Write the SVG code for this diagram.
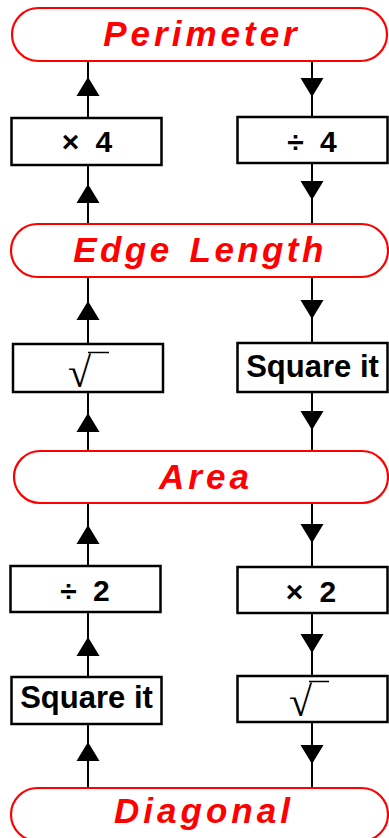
<svg xmlns="http://www.w3.org/2000/svg" xmlns:xlink="http://www.w3.org/1999/xlink" width="389" height="838" viewBox="0 0 389 838">
<style>
.pill{fill:#fff;stroke:#ff0000;stroke-width:2.2}
.pt{font-family:"Liberation Sans",Arial,sans-serif;font-weight:bold;font-style:italic;font-size:35px;fill:#ff0000;letter-spacing:4px;text-anchor:middle}
.box{fill:#fff;stroke:#000;stroke-width:2.5}
.bt{font-family:"Liberation Sans",Arial,sans-serif;font-weight:bold;font-size:30px;fill:#000;text-anchor:middle}
.sq{font-size:31px}
.rad{font-family:"Liberation Serif","DejaVu Serif",serif;font-size:42px;fill:#000}
.vin{stroke:#000;stroke-width:1.5}
.ln{stroke:#000;stroke-width:2;fill:none}
.ah{fill:#000}
</style>
<defs>
<path id="up" d="M0,0 L11.5,19 L-11.5,19 Z"/>
<path id="dn" d="M0,0 L-11.5,-19 L11.5,-19 Z"/>
</defs>
<g id="connectors">
<path class="ln" d="M88,61V118 M88,165V224 M88,277V344 M88,392V451 M88,503V566 M88,612V677 M88,724V788"/>
<path class="ln" d="M312,61V117 M312,163V224 M312,277V343 M312,392V451 M312,503V567 M312,613V676 M312,722V788"/>
<g class="ah">
<use xlink:href="#up" x="88" y="77"/>
<use xlink:href="#up" x="88" y="184"/>
<use xlink:href="#up" x="88" y="301"/>
<use xlink:href="#up" x="88" y="413"/>
<use xlink:href="#up" x="88" y="525"/>
<use xlink:href="#up" x="88" y="637"/>
<use xlink:href="#up" x="88" y="742"/>
<use xlink:href="#dn" x="312" y="97"/>
<use xlink:href="#dn" x="312" y="200"/>
<use xlink:href="#dn" x="312" y="319"/>
<use xlink:href="#dn" x="312" y="430"/>
<use xlink:href="#dn" x="312" y="543"/>
<use xlink:href="#dn" x="312" y="653"/>
<use xlink:href="#dn" x="312" y="764"/>
</g>
</g>
<g id="perimeter"><rect class="pill" x="12" y="8" width="375" height="53" rx="26.5"/><text class="pt" x="202" y="46">Perimeter</text></g>
<g id="times4"><rect class="box" x="11.5" y="118" width="150" height="47"/><text class="bt" x="87" y="152" word-spacing="8">× 4</text></g>
<g id="div4"><rect class="box" x="237.5" y="117" width="150" height="46"/><text class="bt" x="312" y="152" word-spacing="8">÷ 4</text></g>
<g id="edge"><rect class="pill" x="11" y="224" width="377" height="53" rx="26.5"/><text class="pt" x="200" y="262" style="letter-spacing:3.4px" word-spacing="4">Edge Length</text></g>
<g id="sqrt1"><rect class="box" x="13" y="344" width="150" height="48"/><text class="rad" x="68" y="387">√</text><line class="vin" x1="88" y1="352.5" x2="109" y2="352.5"/></g>
<g id="square1"><rect class="box" x="237.5" y="343" width="150" height="49"/><text class="bt sq" x="312.5" y="377">Square it</text></g>
<g id="area"><rect class="pill" x="14" y="451" width="374" height="52" rx="26"/><text class="pt" x="206" y="489">Area</text></g>
<g id="div2"><rect class="box" x="10.5" y="566" width="150" height="46"/><text class="bt" x="85" y="601" word-spacing="8">÷ 2</text></g>
<g id="times2"><rect class="box" x="237.5" y="567" width="150" height="46"/><text class="bt" x="311" y="602" word-spacing="8">× 2</text></g>
<g id="square2"><rect class="box" x="11.5" y="677" width="150" height="47"/><text class="bt sq" x="86.5" y="708">Square it</text></g>
<g id="sqrt2"><rect class="box" x="237.5" y="676" width="150" height="46"/><text class="rad" x="289" y="716">√</text><line class="vin" x1="309" y1="681.5" x2="329" y2="681.5"/></g>
<g id="diagonal"><rect class="pill" x="11" y="788" width="377" height="53" rx="26.5"/><text class="pt" x="204" y="823">Diagonal</text></g>
</svg>
